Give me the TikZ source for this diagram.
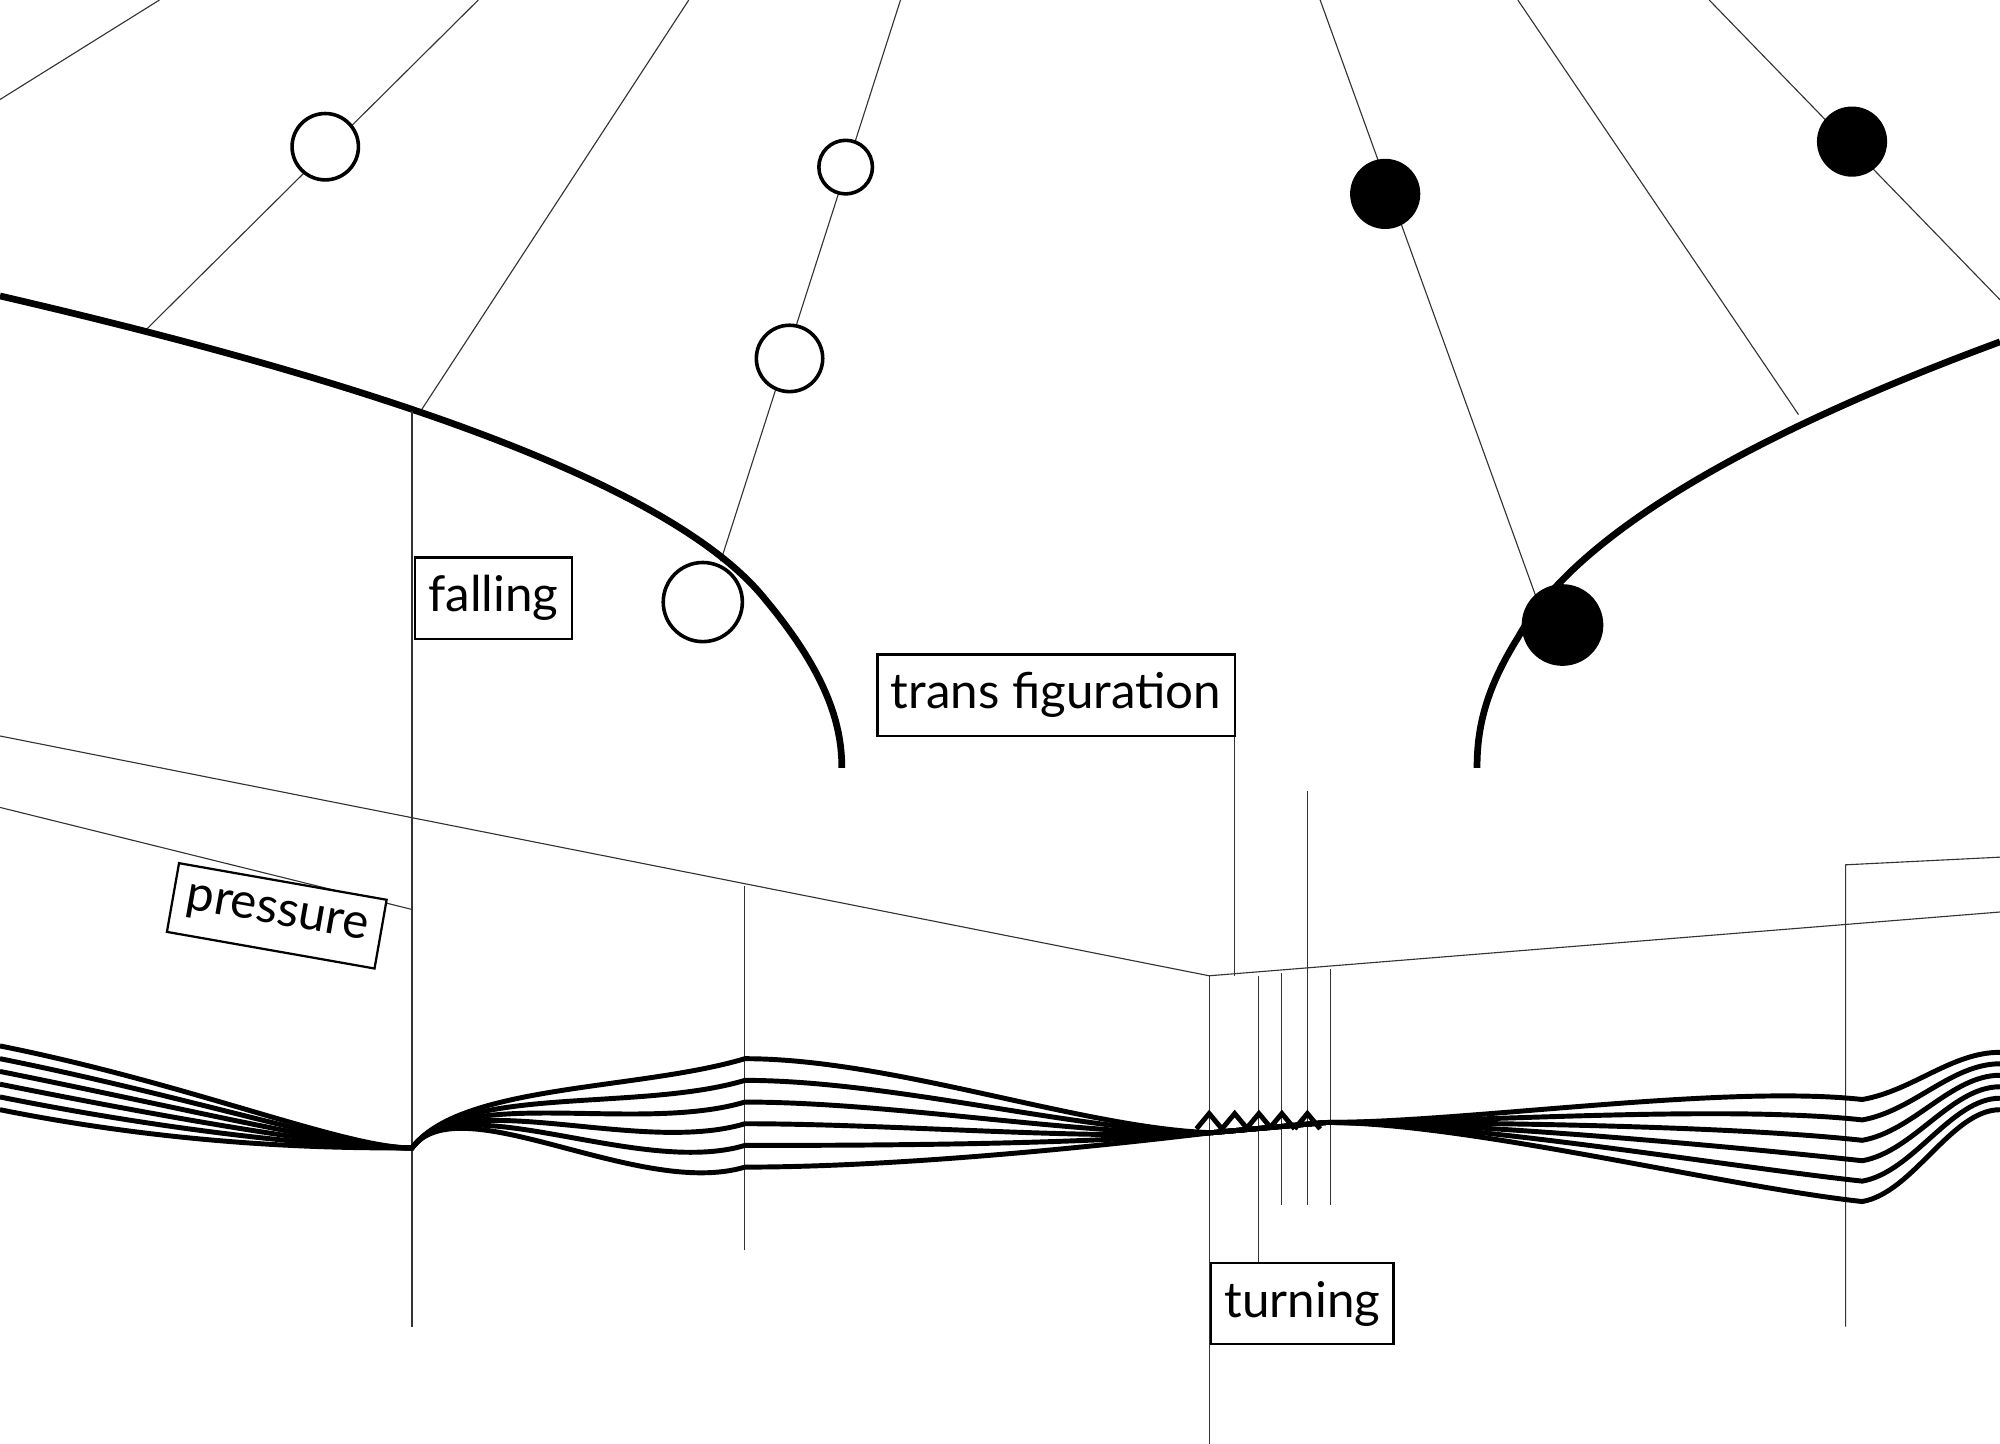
\documentclass[tikz,border=0pt]{standalone}
\usepackage{fontspec}
\setmainfont{Lato}
\begin{document}
\begin{tikzpicture}[x=0.01cm,y=-0.01cm,
 thin line/.style={line width=0.25pt,draw=black!80},
 thick curve/.style={line width=1.5pt},
 band/.style={line width=1.1pt},
 open dot/.style={circle,draw,line width=0.8pt,fill=white,inner sep=0pt},
 full dot/.style={circle,fill=black,inner sep=0pt},
 lab/.style={draw,line width=0.5pt,fill=white,font=\fontsize{11}{13}\selectfont,inner xsep=3pt,inner ysep=4pt}]
\useasboundingbox (0,0) rectangle (1568,1132);
% radial lines
\draw[thin line] (0,78) -- (125,0);
\draw[thin line] (115,258) -- (375,0);
\draw[thin line] (330,322) -- (540,0);
\draw[thin line] (565,440) -- (706,0);
\draw[thin line] (1205,470) -- (1035,0);
\draw[thin line] (1410,325) -- (1190,0);
\draw[thin line] (1568,235) -- (1340,0);
% thick curves
\draw[thick curve] (0,232) .. controls (250,290) and (520,370) .. (600,470) .. controls (650,530) and (660,570) .. (660,602);
\draw[thick curve] (1568,268) .. controls (1400,330) and (1240,410) .. (1190,500) .. controls (1165,540) and (1158,570) .. (1158,602);
% lower thin lines
\draw[thin line] (323,322) -- (323,1040);
\draw[thin line] (0,577) -- (948,765) -- (1568,715);
\draw[thin line] (0,633) -- (323,713);
\draw[thin line] (1447,1040) -- (1447,678) -- (1568,672);
\draw[thin line] (968,573) -- (968,765);
\draw[thin line] (1025,620) -- (1025,945);
\draw[thin line] (948,765) -- (948,1132);
\draw[thin line] (987,765) -- (987,995);
\draw[thin line] (1005,763) -- (1005,945);
\draw[thin line] (1043,760) -- (1043,945);
\draw[thin line] (584,695) -- (584,980);
% bundle
\foreach \i in {0,...,5}{
 \pgfmathsetmacro{\a}{820+10*\i}
 \pgfmathsetmacro{\b}{830+17*\i}
 \pgfmathsetmacro{\c}{885+3*\i}
 \pgfmathsetmacro{\d}{850+16*\i}
 \pgfmathsetmacro{\e}{825+9*\i}
 \draw[band] (0,\a) .. controls (150,\a+30) and (270,900) .. (323,900)
   .. controls (360,850) and (500,\b+25) .. (584,\b)
   .. controls (700,\b) and (850,\c) .. (950,888)
   -- (1040,880)
   .. controls (1150,880) and (1350,\d) .. (1460,\d+12)
   .. controls (1500,\d+5) and (1530,\e) .. (1568,\e);
}
\foreach \x in {948,968,987,1005,1025}{
 \draw[band] (\x-10,885) -- (\x,873) -- (\x+10,885);
}
% dots
\node[open dot,minimum size=0.52cm] (o1) at (255,115) {};
\node[open dot,minimum size=0.42cm] (o2) at (663,131) {};
\node[open dot,minimum size=0.52cm] (o3) at (619,281) {};
\node[open dot,minimum size=0.62cm] (o4) at (551,472) {};
\node[full dot,minimum size=0.55cm] (f1) at (1086,152) {};
\node[full dot,minimum size=0.55cm] (f2) at (1452,111) {};
\node[full dot,minimum size=0.64cm] (f3) at (1225,490) {};
% labels
\node[lab] (fall) at (387,469) {falling};
\node[lab] (trans) at (828,545) {trans figuration};
\node[lab,rotate=-10] (press) at (217,718) {pressure};
\node[lab] (turn) at (1021,1022) {turning};
\end{tikzpicture}
\end{document}
